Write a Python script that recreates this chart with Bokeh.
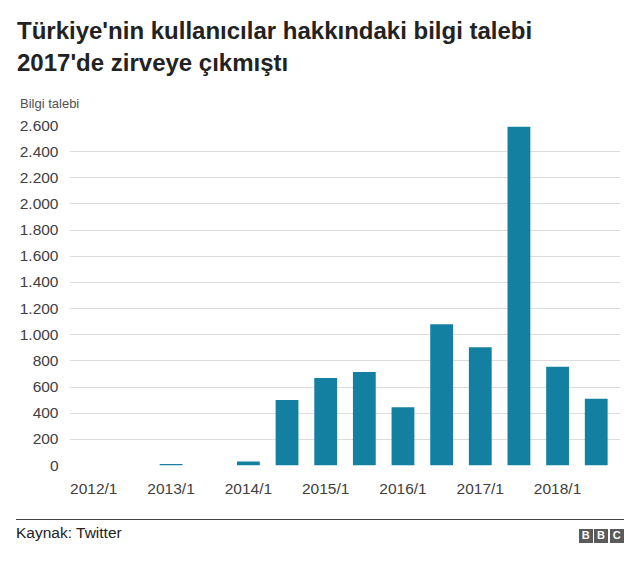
from bokeh.plotting import figure
from bokeh.layouts import column
from bokeh.models import Range1d, FactorRange, FixedTicker, Div, CustomJSTickFormatter
from bokeh.embed import file_html
from bokeh.resources import INLINE

# ---- data ----
periods = ["2012/1", "2012/2", "2013/1", "2013/2", "2014/1", "2014/2", "2015/1",
           "2015/2", "2016/1", "2016/2", "2017/1", "2017/2", "2018/1", "2018/2"]
requests = [0, 0, 12, 0, 30, 500, 670, 715, 445, 1080, 905, 2590, 755, 510]
y_ticks = [0, 200, 400, 600, 800, 1000, 1200, 1400, 1600, 1800, 2000, 2200, 2400, 2600]
y_tick_labels = ["0", "200", "400", "600", "800", "1.000", "1.200", "1.400", "1.600",
                 "1.800", "2.000", "2.200", "2.400", "2.600"]
title_lines = ["Türkiye'nin kullanıcılar hakkındaki bilgi talebi", "2017'de zirveye çıkmıştı"]
y_label = "Bilgi talebi"
source_text = "Kaynak: Twitter"
logo_letters = ["B", "B", "C"]

FONT = "Liberation Sans"
W = 632
BAR = "#1380A1"

# ---- header (HTML text) ----
HH = 112
abs_style = "position:absolute;white-space:nowrap;line-height:1;font-family:'Liberation Sans';"
head_html = (
    f'<div style="position:relative;width:{W}px;height:{HH}px;margin:0;padding:0;">'
    f'<div style="{abs_style}left:17px;top:19.2px;font-size:24px;font-weight:bold;color:#222222;">{title_lines[0]}</div>'
    f'<div style="{abs_style}left:17px;top:51.3px;font-size:24px;font-weight:bold;color:#222222;">{title_lines[1]}</div>'
    f'<div style="{abs_style}left:20px;top:97.3px;font-size:13px;color:#505050;">{y_label}</div>'
    '</div>'
)
head = Div(text=head_html, width=W, height=HH, margin=0)

# ---- main chart ----
p = figure(width=W, height=396,
           x_range=FactorRange(*periods, range_padding=0.128, range_padding_units="absolute"),
           y_range=Range1d(0, 2600),
           output_backend="svg", toolbar_location=None,
           min_border_left=69, min_border_right=12, min_border_top=13, min_border_bottom=43)
p.vbar(x=periods, top=requests, width=0.59, fill_color=BAR, line_color=None)
p.outline_line_color = None
p.xgrid.visible = False
p.ygrid.grid_line_color = "#dcdcdc"
p.ygrid.grid_line_width = 1
p.yaxis.ticker = FixedTicker(ticks=y_ticks)
p.yaxis.major_label_overrides = dict(zip(y_ticks, y_tick_labels))
p.xaxis.formatter = CustomJSTickFormatter(code="return tick.endsWith('/1') ? tick : '';")
for ax in (p.xaxis[0], p.yaxis[0]):
    ax.axis_line_color = None
    ax.major_tick_line_color = None
    ax.minor_tick_line_color = None
    ax.major_tick_out = 0
    ax.major_tick_in = 0
    ax.minor_tick_out = 0
    ax.major_label_text_font = FONT
    ax.major_label_text_font_size = "15.5px"
    ax.major_label_text_color = "#404040"
p.yaxis.major_label_standoff = 11
p.xaxis.major_label_standoff = 14

# ---- footer (HTML) ----
FH = 55
box = ("position:absolute;top:21.3px;width:13.5px;height:13.5px;background:#5a5a5a;color:white;"
       "font-family:'Liberation Sans';font-weight:bold;font-size:11px;line-height:13.5px;text-align:center;")
logo = "".join(f'<div style="{box}left:{lx}px;">{ch}</div>' for lx, ch in zip([579, 594.3, 610], logo_letters))
foot_html = (
    f'<div style="position:relative;width:{W}px;height:{FH}px;margin:0;padding:0;">'
    '<div style="position:absolute;left:16px;top:10.5px;width:608px;height:0;border-top:1.6px solid #444444;"></div>'
    f'<div style="{abs_style}left:16px;top:17.2px;font-size:15.5px;color:#222222;">{source_text}</div>'
    f'{logo}</div>'
)
foot = Div(text=foot_html, width=W, height=FH, margin=0)

layout = column(head, p, foot, spacing=0)
open("out.html", "w").write(file_html(layout, INLINE))
